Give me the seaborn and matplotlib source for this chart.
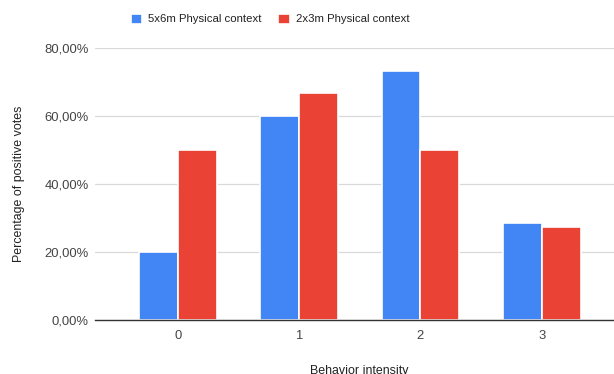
import pandas as pd
import numpy as np
import matplotlib.pyplot as plt
import seaborn as sns

# ----------------------------------------------------------
# DATA
# ----------------------------------------------------------

intensity = ["0", "1", "2", "3"]
big_room = [20.0, 60.0, 73.3, 28.6]     # 5x6m
small_room = [50.0, 66.7, 50.0, 27.3]   # 2x3m
series_names = ["5x6m Physical context", "2x3m Physical context"]

df = pd.DataFrame({
    "intensity": intensity * 2,
    "value": big_room + small_room,
    "context": [series_names[0]] * 4 + [series_names[1]] * 4,
})

# ----------------------------------------------------------
# PLOT
# ----------------------------------------------------------

sns.set_style("white")
plt.rcParams['font.family'] = ['Liberation Sans', 'DejaVu Sans']

fig = plt.figure(figsize=(6.14, 3.74), dpi=100)
ax = fig.add_axes([0.155, 0.144, 0.8616, 0.728])

sns.barplot(
    data=df, x="intensity", y="value", hue="context",
    palette=["#4285F4", "#EA4335"], width=0.64,
    edgecolor="white", linewidth=1.2, saturation=1, ax=ax,
)

ax.set_xlim(-0.68, 3.68)
ax.set_ylim(0, 80)
ax.set_yticks([0, 20, 40, 60, 80])
ax.set_yticklabels([f"{v:.2f}%".replace(".", ",") for v in [0, 20, 40, 60, 80]])
ax.grid(axis="y", color="#d9d9d9", linewidth=0.9)
ax.set_axisbelow(True)
for s in ["top", "right", "left"]:
    ax.spines[s].set_visible(False)
ax.spines["bottom"].set_color("#333333")
ax.spines["bottom"].set_linewidth(1.0)
ax.tick_params(axis="both", length=0, labelsize=9.4, colors="#444444")
ax.tick_params(axis="y", pad=4.5)
ax.tick_params(axis="x", pad=7)

ax.set_xlabel("Behavior intensity", fontsize=8.9, color="#222222", labelpad=17)
ax.set_ylabel("Percentage of positive votes", fontsize=8.9, color="#222222", labelpad=14)

handles, labels = ax.get_legend_handles_labels()
ax.get_legend().remove()
fig.legend(handles, labels, loc="center", bbox_to_anchor=(270 / 614, 1 - 19 / 374),
           ncol=2, frameon=False, fontsize=8.2, handlelength=1.0, handleheight=1.0,
           handletextpad=0.5, columnspacing=1.5, labelcolor="#222222")

fig.savefig("out.png", dpi=100)
